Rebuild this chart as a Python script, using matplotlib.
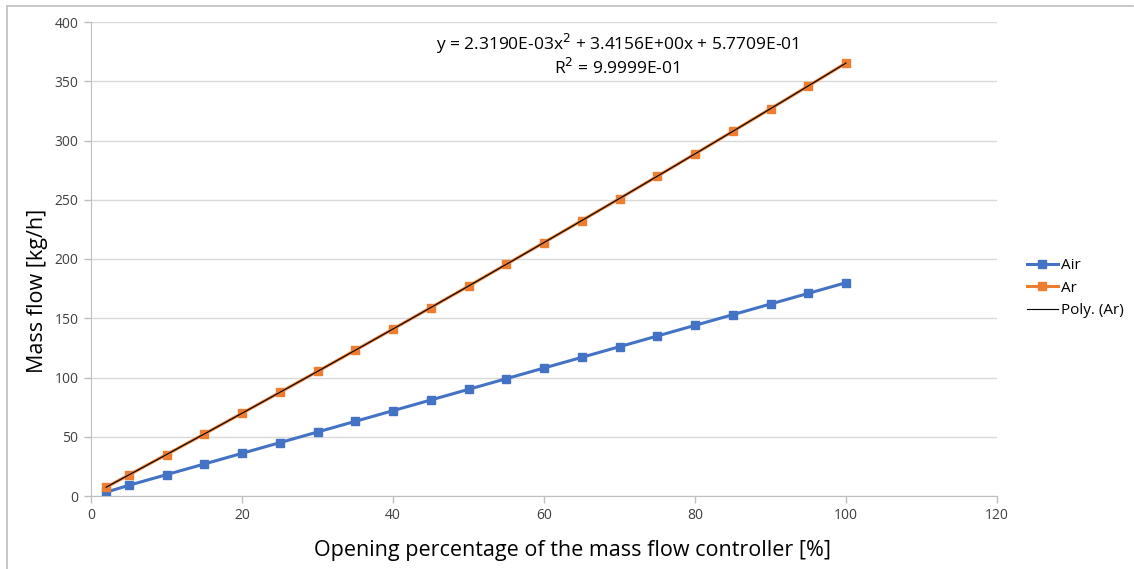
import numpy as np
import matplotlib.pyplot as plt
from matplotlib.lines import Line2D

plt.rcParams['font.family'] = ['Open Sans', 'DejaVu Sans']

# Opening percentage [%]
opening = [2, 5, 10, 15, 20, 25, 30, 35, 40, 45, 50, 55, 60, 65, 70, 75, 80, 85, 90, 95, 100]
# mass flow [kg/h]
air = [3.2, 9.0, 18.0, 27.0, 36.0, 45.0, 54.0, 63.0, 72.0, 81.0, 90.0, 99.0, 108.0,
       117.0, 126.0, 135.0, 144.0, 153.0, 162.0, 171.0, 180.0]
ar = [7.4, 17.7, 35.0, 52.3, 69.8, 87.4, 105.1, 123.0, 140.9, 159.0, 177.1, 195.5, 213.9,
      232.4, 251.0, 269.8, 288.7, 307.7, 326.8, 346.0, 365.4]

grey = '#BFBFBF'
grid_col = '#D9D9D9'
txt = '#404040'

fig = plt.figure(figsize=(11.34, 5.69), dpi=100)
ax = fig.add_axes([91 / 1134, 73 / 569, 906 / 1134, 474 / 569])

ax.plot(opening, air, color='#4472C4', lw=2.2, marker='s', ms=6, label='Air')
ax.plot(opening, ar, color='#ED7D31', lw=2.2, marker='s', ms=6, label='Ar')

# 2nd order polynomial trendline through the Ar points
c = np.polyfit(opening, ar, 2)
xs = np.linspace(min(opening), max(opening), 200)
ax.plot(xs, np.polyval(c, xs), color='black', lw=0.8, label='Poly. (Ar)')

ax.text(69.7, 372, 'y = 2.3190E-03x$^2$ + 3.4156E+00x + 5.7709E-01\nR$^2$ = 9.9999E-01',
        ha='center', va='center', fontsize=12.5, color='black', linespacing=1.15)

ax.set_xlim(0, 120)
ax.set_ylim(0, 400)
ax.set_xticks(range(0, 121, 20))
ax.set_yticks(range(0, 401, 50))
ax.yaxis.grid(True, color=grid_col, lw=1)
ax.set_axisbelow(True)
for s in ['top', 'right']:
    ax.spines[s].set_visible(False)
for s in ['left', 'bottom']:
    ax.spines[s].set_color(grey)
ax.tick_params(axis='both', colors=grey, labelcolor=txt, labelsize=10, length=5, width=1)
ax.tick_params(axis='y', pad=4)

ax.set_xlabel('Opening percentage of the mass flow controller [%]', fontsize=15.5, color='black')
ax.set_ylabel('Mass flow [kg/h]', fontsize=15.5, color='black')
ax.xaxis.set_label_coords((572 - 91) / 906, -(540 - 496) / 474)
ax.yaxis.set_label_coords(-(91 - 48) / 906, (496 - 291) / 474)

ax.legend(loc='center left', bbox_to_anchor=(1027 / 1134, 1 - 288 / 569), bbox_transform=fig.transFigure,
          frameon=False, fontsize=11, handlelength=2.0, handletextpad=0.25, labelspacing=0.5,
          borderpad=0, borderaxespad=0)

# chart area border (left and top edges visible)
fig.add_artist(Line2D([7 / 1134, 7 / 1134], [0, 1 - 6 / 569], color=grey, lw=1.2, transform=fig.transFigure))
fig.add_artist(Line2D([7 / 1134, 1133 / 1134], [1 - 6 / 569, 1 - 6 / 569], color=grey, lw=1.2, transform=fig.transFigure))

fig.savefig('out.png', dpi=100)
